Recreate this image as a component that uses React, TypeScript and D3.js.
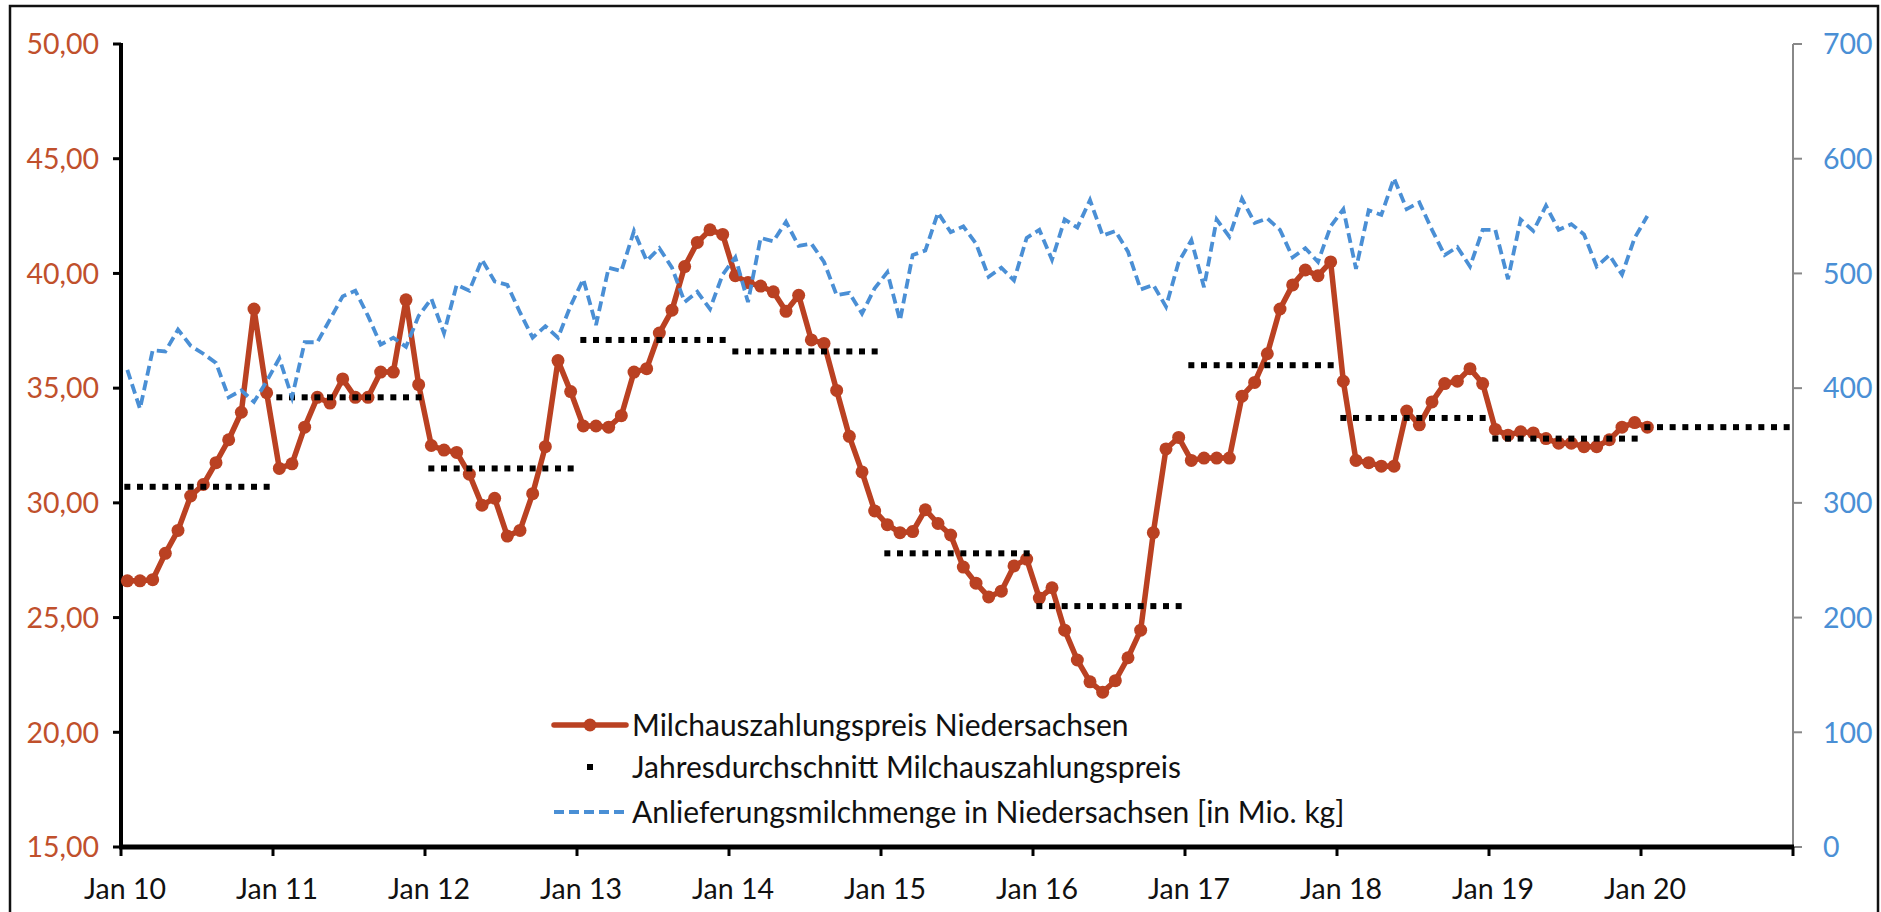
import React from 'react'
import * as d3 from 'd3'

// Monatswerte Jan 2010 - Jan 2020
const priceValues = [
  26.6, 26.6, 26.65, 27.8, 28.8, 30.3, 30.8, 31.75, 32.75, 33.95, 38.45, 34.8,
  31.5, 31.7, 33.3, 34.6, 34.35, 35.4, 34.6, 34.6, 35.7, 35.7, 38.85, 35.15,
  32.5, 32.3, 32.2, 31.25, 29.9, 30.2, 28.55, 28.8, 30.4, 32.45, 36.2, 34.85,
  33.35, 33.35, 33.3, 33.8, 35.7, 35.85, 37.4, 38.4, 40.3, 41.35, 41.9, 41.7,
  39.9, 39.6, 39.45, 39.2, 38.35, 39.05, 37.1, 36.95, 34.9, 32.9, 31.35, 29.65,
  29.05, 28.7, 28.75, 29.7, 29.1, 28.6, 27.2, 26.5, 25.9, 26.15, 27.25, 27.55,
  25.85, 26.3, 24.45, 23.15, 22.2, 21.75, 22.25, 23.25, 24.45, 28.7, 32.35, 32.85,
  31.85, 31.95, 31.95, 31.95, 34.65, 35.25, 36.5, 38.45, 39.5, 40.15, 39.9, 40.5,
  35.3, 31.85, 31.75, 31.6, 31.6, 34.0, 33.4, 34.4, 35.2, 35.3, 35.85, 35.2,
  33.2, 32.95, 33.1, 33.05, 32.8, 32.6, 32.6, 32.45, 32.45, 32.75, 33.3, 33.5,
  33.3
]

const deliveryValues = [
  416, 382, 433, 432, 451, 437, 430, 422, 392, 398, 388, 406,
  426, 392, 440, 440, 460, 480, 485, 463, 438, 444, 436, 463,
  478, 448, 490, 485, 512, 493, 490, 466, 444, 454, 444, 472,
  495, 455, 505, 502, 537, 511, 522, 505, 475, 484, 469, 499,
  514, 475, 531, 528, 545, 524, 526, 510, 481, 483, 465, 487,
  501, 459, 516, 520, 553, 536, 541, 526, 497, 505, 494, 531,
  538, 512, 547, 540, 564, 533, 537, 519, 486, 490, 471, 510,
  529, 488, 547, 532, 565, 544, 548, 538, 514, 522, 510, 541,
  556, 504, 555, 551, 583, 556, 562, 538, 516, 523, 506, 538,
  538, 495, 547, 537, 559, 538, 543, 534, 506, 516, 499, 531,
  550
]

const years = [2010, 2011, 2012, 2013, 2014, 2015, 2016, 2017, 2018, 2019, 2020]
const yearlyAverage = [30.7, 34.6, 31.5, 37.1, 36.6, 27.8, 25.5, 36.0, 33.7, 32.8, 33.3]

const leftTicks = [15, 20, 25, 30, 35, 40, 45, 50]
const rightTicks = [0, 100, 200, 300, 400, 500, 600, 700]

const legendLabels = [
  'Milchauszahlungspreis Niedersachsen',
  'Jahresdurchschnitt Milchauszahlungspreis',
  'Anlieferungsmilchmenge in Niedersachsen [in Mio. kg]'
]

const RED = '#BA4122'
const RED_TEXT = '#C0502C'
const BLUE = '#4A8FD5'
const FONT = "Lato, 'Open Sans', sans-serif"

export default function App() {
  const width = 1881
  const height = 912
  const left = 121
  const right = 1793
  const top = 44
  const bottom = 847

  // Monatsindex (0 = Jan 2010), Punkte in Monatsmitte
  const x = d3.scaleLinear().domain([0, years.length * 12]).range([left, right])
  const yL = d3.scaleLinear().domain([15, 50]).range([bottom, top])
  const yR = d3.scaleLinear().domain([0, 700]).range([bottom, top])

  const priceLine = d3.line<number>()
    .x((_, i) => x(i + 0.5))
    .y(d => yL(d))
  const deliveryLine = d3.line<number>()
    .x((_, i) => x(i + 0.5))
    .y(d => yR(d))

  const averagePoints: { m: number, v: number }[] = []
  yearlyAverage.forEach((v, k) => {
    d3.range(12).forEach(m => averagePoints.push({ m: k * 12 + m, v }))
  })

  const xTicks = d3.range(0, years.length * 12 + 1, 12)
  const fmt = d3.format('.2f')

  const legX = 554
  const legW = 72
  const legText = 632
  const legRows = [725, 767, 812]
  const sq = 6

  return (
    <svg width={width} height={height} style={{ position: 'absolute', left: 0, top: 0, background: '#fff' }}
      fontFamily={FONT}>
      <rect x={10} y={6} width={1868} height={930} fill="#fff" stroke="#111" strokeWidth={2.5} />

      {/* linke Achse */}
      {leftTicks.map(t => (
        <g key={'l' + t}>
          <line x1={left - 8} x2={left} y1={yL(t)} y2={yL(t)} stroke="#000" strokeWidth={3} />
          <text x={left - 22} y={yL(t)} dy="0.36em" textAnchor="end" fontSize={28.5} fill={RED_TEXT}>
            {fmt(t).replace('.', ',')}
          </text>
        </g>
      ))}
      <line x1={left} x2={left} y1={top - 1} y2={bottom} stroke="#000" strokeWidth={4} />

      {/* rechte Achse */}
      {rightTicks.map(t => (
        <g key={'r' + t}>
          <line x1={right} x2={right + 9} y1={yR(t)} y2={yR(t)} stroke="#888" strokeWidth={2} />
          <text x={right + 30} y={yR(t)} dy="0.36em" textAnchor="start" fontSize={28.5} fill={BLUE}>
            {t}
          </text>
        </g>
      ))}
      <line x1={right} x2={right} y1={top} y2={bottom} stroke="#888" strokeWidth={2} />

      {/* x-Achse */}
      {xTicks.map((t, i) => (
        <g key={'x' + t}>
          <line x1={x(t)} x2={x(t)} y1={bottom} y2={bottom + 9} stroke="#000" strokeWidth={3} />
          {i < years.length && (
            <text x={x(t) + 4} y={899} textAnchor="middle" fontSize={28.5} fill="#111">
              {'Jan ' + String(years[i]).slice(2)}
            </text>
          )}
        </g>
      ))}
      <line x1={left - 2} x2={right + 1} y1={bottom} y2={bottom} stroke="#000" strokeWidth={5} />

      {/* Preis */}
      <path d={priceLine(priceValues) || ''} fill="none" stroke={RED} strokeWidth={5.5} strokeLinejoin="round" />
      {priceValues.map((v, i) => (
        <circle key={'p' + i} cx={x(i + 0.5)} cy={yL(v)} r={6.5} fill={RED} />
      ))}

      {/* Jahresdurchschnitt */}
      {averagePoints.map((p, i) => (
        <rect key={'a' + i} x={x(p.m + 0.5) - sq / 2} y={yL(p.v) - sq / 2} width={sq} height={sq} fill="#000" />
      ))}

      {/* Anlieferung */}
      <path d={deliveryLine(deliveryValues) || ''} fill="none" stroke={BLUE} strokeWidth={3.8}
        strokeDasharray="10 5" />

      {/* Legende */}
      <g fontSize={30} fill="#111">
        <line x1={legX} x2={legX + legW} y1={legRows[0]} y2={legRows[0]} stroke={RED} strokeWidth={5.5} strokeLinecap="round" />
        <circle cx={legX + legW / 2} cy={legRows[0]} r={6.5} fill={RED} />
        <text x={legText} y={legRows[0]} dy="0.36em">{legendLabels[0]}</text>

        <rect x={legX + legW / 2 - sq / 2} y={legRows[1] - sq / 2} width={sq} height={sq} fill="#000" />
        <text x={legText} y={legRows[1]} dy="0.36em">{legendLabels[1]}</text>

        <line x1={legX} x2={legX + legW} y1={legRows[2]} y2={legRows[2]} stroke={BLUE} strokeWidth={3.8} strokeDasharray="10 5" />
        <text x={legText} y={legRows[2]} dy="0.36em">{legendLabels[2]}</text>
      </g>
    </svg>
  )
}
